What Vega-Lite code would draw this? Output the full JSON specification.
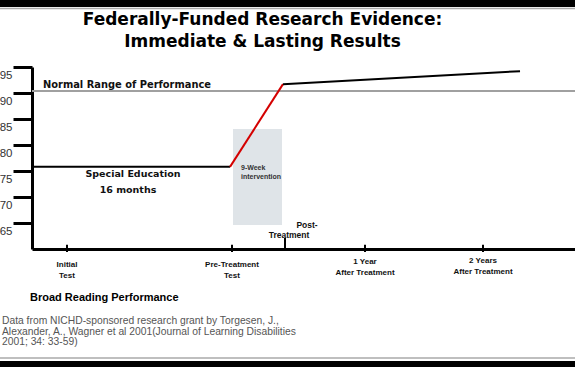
{
  "$schema": "https://vega.github.io/schema/vega-lite/v6.json",
  "width": 543,
  "height": 182,
  "autosize": "none",
  "padding": {"left": 32, "top": 67, "right": 0, "bottom": 118},
  "background": "white",
  "config": {"view": {"stroke": null}, "axis": {"grid": false}},
  "title": {
    "text": ["Federally-Funded Research Evidence:", "Immediate & Lasting Results"],
    "font": "DejaVu Sans",
    "fontSize": 17,
    "fontWeight": "bold",
    "color": "black",
    "anchor": "middle",
    "frame": "group",
    "baseline": "top",
    "dx": -41,
    "dy": 51,
    "offset": 0,
    "lineHeight": 22
  },
  "datasets": {
    "reading": [
      {"segment": "Special Education", "x": 0, "y": 75.8},
      {"segment": "Special Education", "x": 198, "y": 75.8},
      {"segment": "Intervention", "x": 198, "y": 75.8},
      {"segment": "Intervention", "x": 251, "y": 91.7},
      {"segment": "After", "x": 251, "y": 91.7},
      {"segment": "After", "x": 488, "y": 94.2}
    ],
    "checkpoints": [
      {"checkpoint": "Initial Test", "x": 35},
      {"checkpoint": "Pre-Treatment Test", "x": 200},
      {"checkpoint": "1 Year After Treatment", "x": 333},
      {"checkpoint": "2 Years After Treatment", "x": 451}
    ],
    "checkpointLabels": [
      {"text": "Initial", "x": 35, "y": 56.92},
      {"text": "Test", "x": 35, "y": 54.81},
      {"text": "Pre-Treatment", "x": 200, "y": 56.92},
      {"text": "Test", "x": 200, "y": 54.81},
      {"text": "1 Year", "x": 333, "y": 57.5},
      {"text": "After Treatment", "x": 333, "y": 55.38},
      {"text": "2 Years", "x": 451, "y": 57.69},
      {"text": "After Treatment", "x": 451, "y": 55.58}
    ],
    "phaseLabels": [
      {"text": "Special Education", "x": 101, "y": 74.42},
      {"text": "16 months", "x": 96, "y": 71.35}
    ],
    "normalLabel": [
      {"text": "Normal Range of Performance", "x": 11, "y": 91.54}
    ],
    "interventionLabel": [
      {"text": "9-Week", "x": 209, "y": 75.58},
      {"text": "intervention", "x": 209, "y": 73.85}
    ],
    "postLabel": [
      {"text": "Post-", "x": 275, "y": 64.62},
      {"text": "Treatment", "x": 257, "y": 62.69}
    ],
    "measure": [
      {"text": "Broad Reading Performance", "x": -2, "y": 50.58}
    ],
    "source": [
      {"text": "Data from NICHD-sponsored research grant by Torgesen, J.,", "x": -30, "y": 46.15},
      {"text": "Alexander, A., Wagner et al 2001(Journal of Learning Disabilities", "x": -30, "y": 44.04},
      {"text": "2001; 34: 33-59)", "x": -30, "y": 42.12}
    ],
    "interventionPeriod": [
      {"x": 201, "x2": 250, "y": 83.1, "y2": 64.6}
    ],
    "normalRange": [{"y": 90.4}],
    "postTreatment": [{"x": 253}]
  },
  "layer": [
    {
      "data": {"values": [{}]},
      "mark": {"type": "rule", "color": "black", "strokeWidth": 7},
      "encoding": {
        "x": {"datum": -40, "type": "quantitative", "scale": {"domain": [0, 543], "nice": false, "zero": false}, "axis": {"domain": true, "domainWidth": 3, "domainColor": "black", "ticks": false, "labels": false, "title": null}},
        "x2": {"datum": 560},
        "y": {"datum": 107.2, "type": "quantitative", "scale": {"domain": [60, 95], "nice": false, "zero": false}, "axis": {"values": [65, 70, 75, 80, 85, 90, 95], "tickCount": 8, "labelOverlap": false, "domain": true, "domainWidth": 3, "domainColor": "black", "tickSize": 19, "tickWidth": 3, "tickColor": "black", "labelPadding": 1, "labelOffset": 8, "labelFont": "Liberation Sans", "labelFontSize": 11.5, "labelColor": "#333", "title": null}}
      }
    },
    {
      "data": {"values": [{}]},
      "mark": {"type": "rule", "color": "#aaaaaa", "strokeWidth": 1.5},
      "encoding": {
        "x": {"datum": -40, "type": "quantitative"},
        "x2": {"datum": 560},
        "y": {"datum": 106.25, "type": "quantitative"}
      }
    },
    {
      "data": {"values": [{}]},
      "mark": {"type": "rule", "color": "#aaaaaa", "strokeWidth": 1.5},
      "encoding": {
        "x": {"datum": -40, "type": "quantitative"},
        "x2": {"datum": 560},
        "y": {"datum": 39.04, "type": "quantitative"}
      }
    },
    {
      "data": {"values": [{}]},
      "mark": {"type": "rule", "color": "black", "strokeWidth": 8},
      "encoding": {
        "x": {"datum": -40, "type": "quantitative"},
        "x2": {"datum": 560},
        "y": {"datum": 37.69, "type": "quantitative"}
      }
    },
    {
      "data": {"name": "interventionPeriod"},
      "mark": {"type": "rect", "color": "#dfe4e8"},
      "encoding": {
        "x": {"field": "x", "type": "quantitative", "axis": {"title": null}},
        "x2": {"field": "x2"},
        "y": {"field": "y", "type": "quantitative", "axis": {"title": null}},
        "y2": {"field": "y2"}
      }
    },
    {
      "data": {"name": "normalRange"},
      "mark": {"type": "rule", "color": "#a0a0a0", "strokeWidth": 2},
      "encoding": {
        "y": {"field": "y", "type": "quantitative", "axis": {"title": null}}
      }
    },
    {
      "data": {"name": "reading"},
      "mark": {"type": "line", "strokeWidth": 2},
      "encoding": {
        "x": {"field": "x", "type": "quantitative", "axis": {"title": null}},
        "y": {"field": "y", "type": "quantitative", "axis": {"title": null}},
        "detail": {"field": "segment"},
        "color": {"field": "segment", "type": "nominal", "scale": {"domain": ["Special Education", "Intervention", "After"], "range": ["black", "#d40000", "black"]}, "legend": null}
      }
    },
    {
      "data": {"name": "checkpoints"},
      "mark": {"type": "rule", "color": "black", "strokeWidth": 2},
      "encoding": {
        "x": {"field": "x", "type": "quantitative", "axis": {"title": null}},
        "y": {"datum": 60.8, "type": "quantitative"},
        "y2": {"datum": 59.4}
      }
    },
    {
      "data": {"name": "postTreatment"},
      "mark": {"type": "rule", "color": "black", "strokeWidth": 2},
      "encoding": {
        "x": {"field": "x", "type": "quantitative", "axis": {"title": null}},
        "y": {"datum": 62.1, "type": "quantitative"},
        "y2": {"datum": 60}
      }
    },
    {
      "data": {"name": "checkpointLabels"},
      "mark": {"type": "text", "font": "Liberation Sans", "fontWeight": "bold", "fontSize": 8, "align": "center", "baseline": "middle", "color": "#111"},
      "encoding": {
        "x": {"field": "x", "type": "quantitative", "axis": {"title": null}},
        "y": {"field": "y", "type": "quantitative", "axis": {"title": null}},
        "text": {"field": "text"}
      }
    },
    {
      "data": {"name": "phaseLabels"},
      "mark": {"type": "text", "font": "DejaVu Sans", "fontWeight": "bold", "fontSize": 9.5, "align": "center", "baseline": "middle", "color": "#111"},
      "encoding": {
        "x": {"field": "x", "type": "quantitative", "axis": {"title": null}},
        "y": {"field": "y", "type": "quantitative", "axis": {"title": null}},
        "text": {"field": "text"}
      }
    },
    {
      "data": {"name": "normalLabel"},
      "mark": {"type": "text", "font": "DejaVu Sans", "fontWeight": "bold", "fontSize": 9.9, "align": "left", "baseline": "middle", "color": "#111"},
      "encoding": {
        "x": {"field": "x", "type": "quantitative", "axis": {"title": null}},
        "y": {"field": "y", "type": "quantitative", "axis": {"title": null}},
        "text": {"field": "text"}
      }
    },
    {
      "data": {"name": "interventionLabel"},
      "mark": {"type": "text", "font": "Liberation Sans", "fontWeight": "bold", "fontSize": 7, "align": "left", "baseline": "middle", "color": "#333"},
      "encoding": {
        "x": {"field": "x", "type": "quantitative", "axis": {"title": null}},
        "y": {"field": "y", "type": "quantitative", "axis": {"title": null}},
        "text": {"field": "text"}
      }
    },
    {
      "data": {"name": "postLabel"},
      "mark": {"type": "text", "font": "Liberation Sans", "fontWeight": "bold", "fontSize": 8.5, "align": "center", "baseline": "middle", "color": "#111"},
      "encoding": {
        "x": {"field": "x", "type": "quantitative", "axis": {"title": null}},
        "y": {"field": "y", "type": "quantitative", "axis": {"title": null}},
        "text": {"field": "text"}
      }
    },
    {
      "data": {"name": "measure"},
      "mark": {"type": "text", "font": "Liberation Sans", "fontWeight": "bold", "fontSize": 11, "align": "left", "baseline": "middle", "color": "black"},
      "encoding": {
        "x": {"field": "x", "type": "quantitative", "axis": {"title": null}},
        "y": {"field": "y", "type": "quantitative", "axis": {"title": null}},
        "text": {"field": "text"}
      }
    },
    {
      "data": {"name": "source"},
      "mark": {"type": "text", "font": "Liberation Sans", "fontSize": 10.3, "align": "left", "baseline": "middle", "color": "#555"},
      "encoding": {
        "x": {"field": "x", "type": "quantitative", "axis": {"title": null}},
        "y": {"field": "y", "type": "quantitative", "axis": {"title": null}},
        "text": {"field": "text"}
      }
    }
  ]
}
